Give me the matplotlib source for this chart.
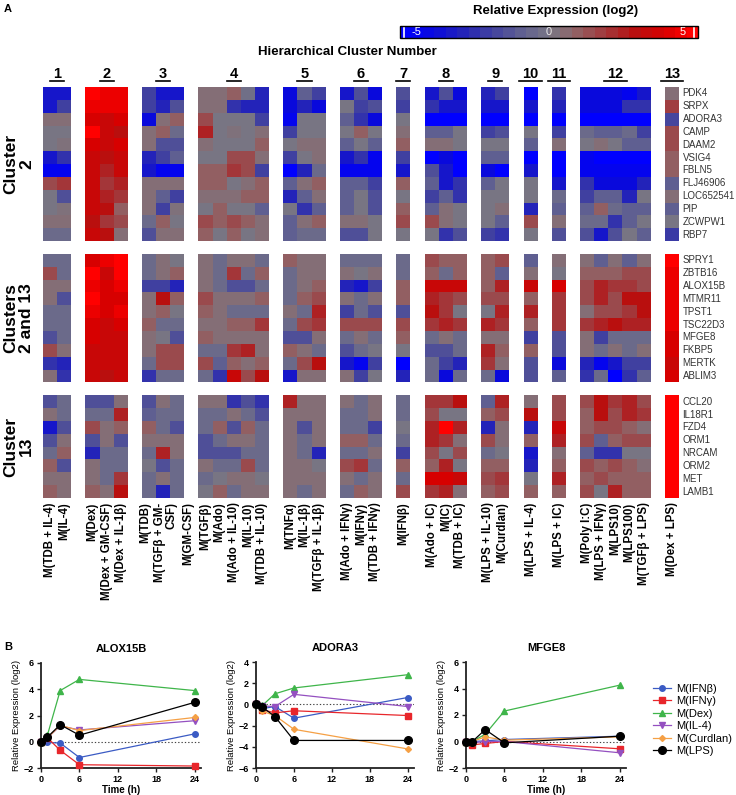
import numpy as np
import matplotlib
matplotlib.use("Agg")
import matplotlib.pyplot as plt
import matplotlib.colorbar as mcolorbar
from matplotlib.colors import LinearSegmentedColormap, Normalize

# ------------------------------------------------------------------ data
cluster_ids = ["1", "2", "3", "4", "5", "6", "7", "8", "9", "10", "11", "12", "13"]
cluster_sizes = [2, 3, 3, 5, 3, 3, 1, 3, 2, 1, 1, 5, 1]

conditions = [
    "M(TDB + IL-4)", "M(IL-4)",
    "M(Dex)", "M(Dex + GM-CSF)", "M(Dex + IL-1β)",
    "M(TDB)", "M(TGFβ + GM-\nCSF)", "M(GM-CSF)",
    "M(TGFβ)", "M(Ado)", "M(Ado + IL-10)", "M(IL-10)", "M(TDB + IL-10)",
    "M(TNFα)", "M(IL-1β)", "M(TGFβ + IL-1β)",
    "M(Ado + IFNγ)", "M(IFNγ)", "M(TDB + IFNγ)",
    "M(IFNβ)",
    "M(Ado + IC)", "M(IC)", "M(TDB + IC)",
    "M(LPS + IL-10)", "M(Curdlan)",
    "M(LPS + IL-4)",
    "M(LPS + IC)",
    "M(Poly I:C)", "M(LPS + IFNγ)", "M(LPS10)", "M(LPS100)", "M(TGFβ + LPS)",
    "M(Dex + LPS)",
]

genes_c2 = ["PDK4", "SRPX", "ADORA3", "CAMP", "DAAM2", "VSIG4", "FBLN5",
            "FLJ46906", "LOC652541", "PIP", "ZCWPW1", "RBP7"]
genes_c2_13 = ["SPRY1", "ZBTB16", "ALOX15B", "MTMR11", "TPST1", "TSC22D3",
               "MFGE8", "FKBP5", "MERTK", "ABLIM3"]
genes_c13 = ["CCL20", "IL18R1", "FZD4", "ORM1", "NRCAM", "ORM2", "MET", "LAMB1"]

# relative expression (log2), one row per gene, 33 conditions in the order above
expr_c2 = [
    [-3.5, -3.5, 5, 4.5, 4.5, -2, -3.5, -3.5, 0.5, 0.5, 1, -0.3, -3, -4, -1, -2, -3.5, -1.5, -4, -1.5,
     -3.5, -1.5, -4, -3, -2, -5, -2.5, -4, -4, -4, -4.5, -3.5, 0.5],
    [-3.5, -2, 4.5, 4.5, 4.5, -2, -3, -1.5, 0.5, 0.5, -2.5, -3, -3, -4, -3, -4, 0, -2, -1.5, -2,
     -2.5, -3.5, -3.5, -3.5, -3.5, -3.5, -3, -4, -4, -4, -2.5, -2.5, 1.8],
    [0.5, 0.5, 4, 3.5, 4, -4, 0.5, 1, 1.5, 0, 0, 0, -2, -4.5, 0, 0, -1, -2.5, -4, 0,
     -5, -5, -5, -5, -5, -5, -5, -5, -5, -5, -5, -5, -1.8],
    [0, 0, 5, 3.5, 3, 0.5, 1, -0.5, 2.5, 0, 0.3, 0, 0.5, -2, 0, 0, 0, 1, 0, 0.5,
     -1, -1, 0, -2, -1.5, 0, -2, -0.5, -1, -1, -0.5, -2, 1.5],
    [0, 0.3, 4, 3.5, 4, 0.5, -1.5, -1.5, 0.5, 0, 0, 0, 1, 0, 0.5, 0.5, -1, 0, -1, 1,
     0.5, 0.5, 0, 0, 0, -1, 0.5, 0, 0.5, 0, -1, -1, 1.5],
    [-3.5, -2.5, 3.5, 3, 3.5, -3, -2, -1, 0, 0, 1.5, 1.5, 0.5, -2, 0, 0.5, -3.5, -2.5, -4.5, -2,
     -5, -4, -5, -1, -1, -5, -5, -4.5, -5, -5, -5, -5, 1],
    [-4.5, -4.5, 3.5, 2.5, 3.5, -3.5, -4.5, -4.5, 1, 1, 2, 1.5, -2, -5, -3, -0.5, -4.5, -4.5, -4.5, -3.5,
     -1.5, -3.5, -5, -4, -5, -3.5, -5, -4.5, -4.5, -4.5, -4.5, -4.5, 1],
    [1.5, 2, 3.5, 2, 2.5, 0.5, 0.5, 0.5, 1, 1, 0, 0.5, 1, -1, 0.5, 1, -1, -1, -2, 1,
     -1, -3.5, -2.5, -1, 0, 0, -3.5, -2.5, -4, -4, -4, -3, -1],
    [0, -1.5, 3.5, 2.5, 2, 0.5, -1, -2, 0.5, 0.5, 0.5, 1, 1, -3, -1, 0.5, -1, 0, -1.5, 0,
     -2, -1, -2.5, 0, 0, 0, -0.5, -2, -1, -1, -3, 0, 0.5],
    [0, 0.3, 3.5, 3, 1, 0.5, -2, 0.3, 0, 1, 0, 0, -1, 0, -2.5, -1, -1, 0, -1.5, 1,
     -1, 0.5, 0, 0, 0.5, -3, -1, -1, 1, -0.5, -1, -1, -1],
    [0.5, 0.5, 3, 2, 1.5, -0.5, 1, 0, 1.5, 1, 1.5, 1, 0.5, -1, 0.5, 1, 0.5, 0.5, 0, 1.5,
     1.5, 0.5, 0, 0, -1, 1.5, 0.5, -0.5, -0.5, -2.5, -1, 0, 0],
    [-0.5, -0.5, 3.5, 3, 0.5, -1.5, 0.5, 0.5, 1, 0, 1, 0, 0.5, -1, -0.5, -0.5, -1.5, -1.5, 0, 0,
     0, -2.5, -1.5, -2, -2.5, 0, -1.5, -1.5, -3.5, -1.5, 0, -1, -2.2],
]
expr_c2_13 = [
    [-0.5, -0.5, 4, 4.5, 5, -0.5, 0.5, 0, 0.5, -0.5, 0.5, 0.5, -0.5, 1, 0.5, 0.5, -0.5, -0.5, -0.5, -0.5,
     1.5, 1, 1, 1, 1.5, -1, 0.5, 0.5, -1, 0.5, -1, 0.5, 5],
    [1.5, -0.5, 5, 3.5, 5, -0.5, 0.5, 1, 0.5, -0.5, 2, -0.5, 1, -0.5, 0.5, 0.5, 0.5, 0, 0.5, -0.5,
     1, -0.5, 1, 1, -1, 0.5, 0, 1, 1, 1, 1.5, 1.5, 4.5],
    [0.5, 0.5, 4.5, 4, 4.5, -2, -2, -3, 0.5, -0.5, -1.5, -1.5, -0.5, -0.5, 0.5, 1, -3, -3.5, -2, 1,
     3.5, 3.5, 3.5, 1, 2.5, 3.5, 4, 1.5, 2.5, 2, 2, 1.5, 4.5],
    [0.5, -1.5, 5, 4, 4, 0.5, 3, 1, 1.5, 0.5, 0.5, 0.5, 1, -0.5, 1, 1.5, 0.5, -0.5, 0.5, 1,
     2.5, 2, 1.5, 1.5, 1.5, 1, 2, 1.5, 2.5, 1.5, 3, 3, 4.5],
    [-0.5, -0.5, 4.5, 4, 4.5, 0.5, 1, 0, 1, 0.5, -0.5, -0.5, -0.5, 0.5, -0.5, 2.5, -2, -0.5, -1.5, -1.5,
     3, 2, 0, 0, 2.5, 2.5, 2, 0.5, 1.5, 1.5, 2, 3, 4.5],
    [-0.5, -0.5, 4, 3.5, 4, 1, -0.5, -0.5, 0.5, 0.5, 1, 1, 2, -0.5, 1.5, 2, 1.5, 1.5, 1.5, 1.5,
     2, 2.5, 2, 2.5, 2, 1, 2, 2, 2.5, 3, 2.5, 2.5, 4.5],
    [-1.5, -0.5, 4, 3.5, 3.5, 0.5, 0, -1.5, 1, 0.5, 0.5, 0.5, 0.5, -1.5, -1.5, 0.5, -0.5, 0.5, -0.5, 1,
     -0.5, 0.5, -0.5, 0.5, 0.5, -2, -1.5, 0.5, -2, -0.5, -0.5, -0.5, 4],
    [1.5, 0.5, 3.5, 3.5, 3.5, 0.5, 1.5, 1.5, -0.5, -0.5, 2, 2.5, 0.5, 1, 0.5, -0.5, -1.5, -0.5, 0, 0,
     -1.5, -1.5, -0.5, 2.5, 1, 1, -1.5, 0.5, -0.5, 0.5, -0.5, 0.5, 4],
    [-2.5, -3, 3.5, 3.5, 3.5, -0.5, 1.5, 1.5, 1.5, -1, 1, 0.5, 1, -0.5, 1.5, 3, -3.5, -4.5, -2, -5,
     -0.5, -2, -3, 2, 0.5, -1.5, -4, -3, -4.5, -3.5, -2, -2, 3.5],
    [0.5, -2.5, 3.5, 3, 3.5, -2.5, -0.5, -0.5, -0.5, -2.5, 3.5, 1.5, 3, -3.5, 0.5, 0.5, 0.5, -2, 0, -3,
     -0.5, -4, -0.5, -0.5, -4, -1.5, -1, -2.5, -0.5, -5, -2.5, -1, 4],
]
expr_c13 = [
    [-1.5, -0.5, -1.5, -1.5, 0.5, -1.5, 0.5, -0.5, 0.5, 0.5, -2.5, -1.5, -2.5, 2.5, 0.5, 0.5, 0.5, -0.5, 0.5, -0.5,
     2, 2, 3, -1, 2.5, 0.5, 1.5, 1.5, 3, 2, 2.5, 1.5, 5],
    [0.5, -0.5, -0.5, -0.5, 2.5, -1, -0.5, -0.5, -0.5, -0.5, 0.5, -0.5, -1.5, 0.5, 0.5, 0.5, -0.5, -0.5, 0.5, -0.5,
     1.5, 0, 0, 1, 1.5, 3, 1.5, 1, 3, 1.5, 2.5, 2, 5],
    [-3.5, -1.5, 1.5, 0.5, 1, 1, -0.5, -1.5, -0.5, 1, -1.5, 1, -0.5, 0.5, -1.5, 0.5, -0.5, -0.5, -2, 0,
     2.5, 5, 2.5, -3, 0.5, -3, 3.5, 1, 1.5, 1.5, 1, 0.5, 5],
    [-1.5, 0.5, -1.5, 0.5, -1.5, 0.5, 0.5, 0.5, -1.5, -0.5, 0.5, 0.5, -0.5, 0.5, -0.5, 0.5, 1, 1, -0.5, -0.5,
     2.5, 2, 0.5, 1.5, 0.5, 1, 2.5, 1.5, -1, 1, 1.5, 1.5, 5],
    [-0.5, 1, -3, -0.5, -0.5, -0.5, 2.5, 0.5, -1.5, -1.5, -1.5, -0.5, -0.5, 0.5, -0.5, -3, -0.5, -0.5, 0.5, -2,
     1.5, 0, 1.5, -0.5, 0, -3.5, 0.5, -1, -2.5, -2.5, 0, 0, 5],
    [1, -1.5, 0.5, -0.5, -0.5, 0, -1.5, -0.5, 0.5, -0.5, -0.5, 1.5, -0.5, 0.5, 0.5, 0, 1.5, 2, -0.5, 1,
     1, 2.5, 0, 1, 1, -3, 1, 1.5, 1, 1.5, 1, 0.5, 5],
    [0.5, 0.5, 0.5, -0.5, 2, -0.5, 0.5, -0.5, -0.5, 0, 0.5, 0.5, 0, 0.5, 0.5, 0.5, 0.5, -0.5, 0.5, -0.5,
     4, 4, 3.5, 1.5, 2, 0, 2.5, 1, 1.5, 1, 1, 1, 5],
    [1, 0.5, 1, 0.5, 3, -0.5, -3, -0.5, 0, 1, -0.5, 0.5, 0.5, 0.5, -0.5, 0.5, -0.5, 1, 0.5, 1.5,
     2, 2.5, 0.5, 1, 1.5, 1, 1, 1.5, 0, 2.5, 1, 1, 5],
]

# panel B: time course
time_h = [0, 1, 3, 6, 24]
treatments = ["M(IFNβ)", "M(IFNγ)", "M(Dex)", "M(IL-4)", "M(Curdlan)", "M(LPS)"]
alox15b = [
    [0, -0.05, -0.1, -1.2, 0.6],
    [0, 0.3, -0.65, -1.75, -1.85],
    [0, 0.5, 3.9, 4.75, 3.9],
    [0, 0.3, 1.2, 0.9, 1.6],
    [0, 0.3, 1.25, 0.85, 1.85],
    [0, 0.35, 1.3, 0.5, 3.0],
]
adora3 = [
    [0, -0.4, -0.2, -1.3, 0.65],
    [0, -0.5, -0.8, -0.6, -1.05],
    [0, -0.1, 1.0, 1.55, 2.8],
    [0, -0.15, -0.2, 0.95, -0.2],
    [0, -0.65, -1.05, -2.35, -4.2],
    [0, -0.25, -1.15, -3.4, -3.4],
]
mfge8 = [
    [0, 0.0, 0.05, 0.15, 0.4],
    [0, -0.25, -0.15, 0.0, -0.55],
    [0, 0.0, 0.55, 2.3, 4.25],
    [0, -0.1, 0.0, 0.0, -0.85],
    [0, 0.0, 0.35, 0.1, 0.35],
    [0, 0.0, 0.9, -0.1, 0.4],
]

# ------------------------------------------------------------------ style
plt.rcParams.update({"font.family": ["Liberation Sans", "DejaVu Sans"],
                     "font.size": 8, "axes.linewidth": 1.2})
W, H = 736, 795
fig = plt.figure(figsize=(W / 100, H / 100), dpi=100)


def px_axes(l, t, r, b):
    return fig.add_axes([l / W, 1 - b / H, (r - l) / W, (b - t) / H])


cmap = LinearSegmentedColormap.from_list("rel_expr", [
    (0.00, (0 / 255, 0 / 255, 255 / 255)),
    (0.10, (10 / 255, 10 / 255, 220 / 255)),
    (0.20, (35 / 255, 35 / 255, 185 / 255)),
    (0.30, (65 / 255, 65 / 255, 160 / 255)),
    (0.40, (95 / 255, 95 / 255, 145 / 255)),
    (0.50, (120 / 255, 118 / 255, 132 / 255)),
    (0.55, (133 / 255, 110 / 255, 118 / 255)),
    (0.60, (146 / 255, 95 / 255, 98 / 255)),
    (0.70, (163 / 255, 55 / 255, 58 / 255)),
    (0.80, (185 / 255, 15 / 255, 15 / 255)),
    (0.90, (215 / 255, 0, 0)),
    (1.00, (255 / 255, 0, 0)),
])
cmap.set_bad("white")

fig.text(4 / W, 1 - 9 / H, "A", fontsize=8, fontweight="bold", va="center")
fig.text(4 / W, 1 - 647 / H, "B", fontsize=8, fontweight="bold", va="center")

# ------------------------------------------------------------------ colour key
fig.text(556 / W, 1 - 11 / H, "Relative Expression (log2)", fontsize=9.5,
         fontweight="bold", ha="center", va="center")
cax = px_axes(400, 26, 698, 38)
cb = mcolorbar.ColorbarBase(cax, cmap=cmap.resampled(26), norm=Normalize(-5, 5),
                            orientation="horizontal", ticks=[])
cb.outline.set_linewidth(1.0)
cax.axvline(-4.85, color="white", lw=1.2)
cax.axvline(4.85, color="white", lw=1.2)
cax.text(-4.6, 0.5, "-5", color="white", fontsize=8, ha="left", va="center",
         transform=cax.get_xaxis_transform())
cax.text(0, 0.5, "0", color="#e8e8e8", fontsize=8, ha="center", va="center",
         transform=cax.get_xaxis_transform())
cax.text(4.6, 0.5, "5", color="white", fontsize=8, ha="right", va="center",
         transform=cax.get_xaxis_transform())

fig.text(347 / W, 1 - 52 / H, "Hierarchical Cluster Number", fontsize=9.5,
         fontweight="bold", ha="center", va="center")

# ------------------------------------------------------------------ heatmap
col_pos = []
pos = 0
cl_centres = []
for n in cluster_sizes:
    col_pos.extend(range(pos, pos + n))
    cl_centres.append(pos + n / 2)
    pos += n + 1
n_cols = pos - 1

blocks = [(expr_c2, genes_c2), (expr_c2_13, genes_c2_13), (expr_c13, genes_c13)]
n_rows = sum(len(g) for _, g in blocks) + len(blocks) - 1
mat = np.full((n_rows, n_cols), np.nan)
row_names = {}
r0 = 0
block_mid = []
for vals, genes in blocks:
    for i, (row, g) in enumerate(zip(vals, genes)):
        mat[r0 + i, col_pos] = row
        row_names[r0 + i] = g
    block_mid.append(r0 + len(genes) / 2)
    r0 += len(genes) + 1

hax = px_axes(43, 87, 679, 498)
hax.imshow(np.ma.masked_invalid(mat), cmap=cmap, vmin=-5, vmax=5, aspect="auto",
           interpolation="nearest", extent=(0, n_cols, n_rows, 0))
hax.set_xlim(0, n_cols)
hax.set_ylim(n_rows, 0)
hax.axis("off")

for r, g in row_names.items():
    hax.text(n_cols + 0.25, r + 0.5, g, fontsize=7, color="#333333",
             ha="left", va="center", clip_on=False)

# small sideways nudges so the two-line label in cluster 3 does not collide
label_shift = {5: -0.25, 6: 0.2, 7: 0.75}
for k, (c, lab) in enumerate(zip(col_pos, conditions)):
    hax.text(c + 0.5 + label_shift.get(k, 0), n_rows + 0.35, lab, rotation=90,
             fontsize=8.3, fontweight="bold", ha="center", va="top",
             multialignment="right", linespacing=0.95, clip_on=False)

for cid, cc in zip(cluster_ids, cl_centres):
    hax.text(cc, -1.05, cid, fontsize=10.5, fontweight="bold", ha="center",
             va="center", clip_on=False)
    w = 0.3 * len(cid) + 0.2
    hax.plot([cc - w, cc + w], [-0.45, -0.45], color="black", lw=1.2, clip_on=False)

for lab, mid in zip(["Cluster\n2", "Clusters\n2 and 13", "Cluster\n13"], block_mid):
    y_px = 87 + mid * (498 - 87) / n_rows
    fig.text(19 / W, 1 - y_px / H, lab, rotation=90, fontsize=12.5, fontweight="bold",
             ha="center", va="center", linespacing=1.05)

# ------------------------------------------------------------------ panel B
colors = ["#3b5bc4", "#e8262b", "#3fb54a", "#9450c0", "#f5a045", "#000000"]
markers = ["o", "s", "^", "v", "D", "o"]
msizes = [4, 4.2, 4.5, 4.5, 3, 5.5]


def time_panel(ax, title, series, yticks, xlabel=True):
    for name, v, c, m, ms in zip(treatments, series, colors, markers, msizes):
        ax.plot(time_h, v, color=c, marker=m, ms=ms, lw=0.9, label=name,
                clip_on=False, zorder=3)
    ax.axhline(0, color="#444444", ls=(0, (1.2, 1.8)), lw=0.8, zorder=1)
    ax.set_xlim(0, 25)
    ax.set_ylim(yticks[0], yticks[-1])
    ax.set_xticks([0, 6, 12, 18, 24])
    ax.set_yticks(yticks)
    for s in ("top", "right"):
        ax.spines[s].set_visible(False)
    for s in ("left", "bottom"):
        ax.spines[s].set_color("#222222")
        ax.spines[s].set_linewidth(1.3)
    ax.tick_params(length=3, width=1, labelsize=6.5, pad=2, color="#222222")
    for t in ax.get_xticklabels() + ax.get_yticklabels():
        t.set_fontweight("bold")
    ax.set_ylabel("Relative Expression (log2)", fontsize=6.8, labelpad=2)
    if xlabel:
        ax.set_xlabel("Time (h)", fontsize=7, fontweight="bold", labelpad=1)
    ax.text(0.5, 1.13, title, transform=ax.transAxes, fontsize=8, fontweight="bold",
            ha="center", va="center")


ax1 = px_axes(41, 663, 201, 768)
time_panel(ax1, "ALOX15B", alox15b, [-2, 0, 2, 4, 6])
ax2 = px_axes(256, 662, 414, 768)
time_panel(ax2, "ADORA3", adora3, [-6, -4, -2, 0, 2, 4], xlabel=False)
ax3 = px_axes(466, 662, 626, 768)
time_panel(ax3, "MFGE8", mfge8, [-2, 0, 2, 4, 6])

handles, labels = ax1.get_legend_handles_labels()
fig.legend(handles, labels, loc="center left", bbox_to_anchor=(651 / W, 1 - 720 / H),
           frameon=False, fontsize=8, handlelength=1.6, handletextpad=0.5,
           labelspacing=0.22, borderaxespad=0, borderpad=0.2)

fig.savefig("out.png", dpi=100)
